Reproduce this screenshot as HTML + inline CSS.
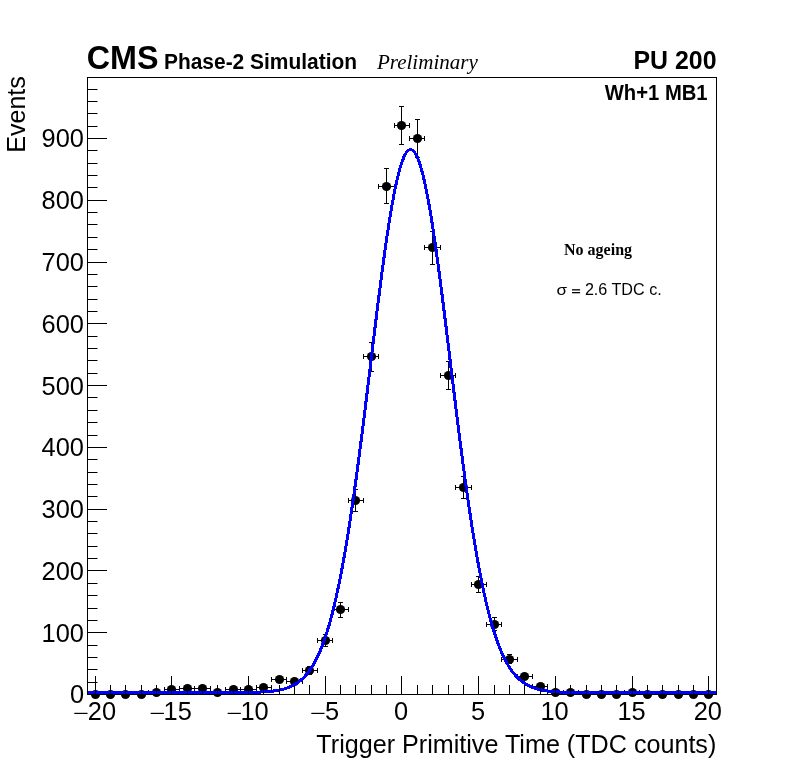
<!DOCTYPE html><html><head><meta charset="utf-8"><style>html,body{margin:0;padding:0;background:#fff;width:796px;height:772px;overflow:hidden}svg{display:block;will-change:transform}</style></head><body><svg width="796" height="772" viewBox="0 0 796 772"><rect x="0" y="0" width="796" height="772" fill="#fff"/><defs><clipPath id="cl"><rect x="87" y="77" width="630" height="617"/></clipPath></defs><path clip-path="url(#cl)" d="M87.5 694.5H102.5M87.5 692.0V697.0M102.5 692.0V697.0M102.5 694.5H118.5M102.5 692.0V697.0M118.5 692.0V697.0M118.5 694.5H133.5M118.5 692.0V697.0M133.5 692.0V697.0M133.5 694.5H148.5M133.5 692.0V697.0M148.5 692.0V697.0M148.5 692.5H164.5M148.5 690.0V695.0M164.5 690.0V695.0M156.5 691.5V693.5M154.0 691.5H159.0M154.0 693.5H159.0M164.5 689.5H179.5M164.5 687.0V692.0M179.5 687.0V692.0M171.5 687.5V691.5M169.0 687.5H174.0M169.0 691.5H174.0M179.5 688.5H194.5M179.5 686.0V691.0M194.5 686.0V691.0M187.5 686.5V690.5M185.0 686.5H190.0M185.0 690.5H190.0M194.5 688.5H210.5M194.5 686.0V691.0M210.5 686.0V691.0M202.5 686.5V690.5M200.0 686.5H205.0M200.0 690.5H205.0M210.5 692.5H225.5M210.5 690.0V695.0M225.5 690.0V695.0M217.5 691.5V693.5M215.0 691.5H220.0M215.0 693.5H220.0M225.5 689.5H240.5M225.5 687.0V692.0M240.5 687.0V692.0M233.5 687.5V691.5M231.0 687.5H236.0M231.0 691.5H236.0M240.5 689.5H256.5M240.5 687.0V692.0M256.5 687.0V692.0M248.5 687.5V691.5M246.0 687.5H251.0M246.0 691.5H251.0M256.5 687.5H271.5M256.5 685.0V690.0M271.5 685.0V690.0M263.5 684.5V689.5M261.0 684.5H266.0M261.0 689.5H266.0M271.5 679.5H286.5M271.5 677.0V682.0M286.5 677.0V682.0M279.5 676.5V682.5M277.0 676.5H282.0M277.0 682.5H282.0M286.5 681.5H302.5M286.5 679.0V684.0M302.5 679.0V684.0M294.5 678.5V684.5M292.0 678.5H297.0M292.0 684.5H297.0M302.5 670.5H317.5M302.5 668.0V673.0M317.5 668.0V673.0M309.5 666.5V674.5M307.0 666.5H312.0M307.0 674.5H312.0M317.5 640.5H332.5M317.5 638.0V643.0M332.5 638.0V643.0M325.5 634.5V646.5M323.0 634.5H328.0M323.0 646.5H328.0M332.5 609.5H348.5M332.5 607.0V612.0M348.5 607.0V612.0M340.5 602.5V617.5M338.0 602.5H343.0M338.0 617.5H343.0M348.5 500.5H363.5M348.5 498.0V503.0M363.5 498.0V503.0M355.5 489.5V511.5M353.0 489.5H358.0M353.0 511.5H358.0M363.5 356.5H378.5M363.5 354.0V359.0M378.5 354.0V359.0M371.5 342.5V371.5M369.0 342.5H374.0M369.0 371.5H374.0M378.5 186.5H394.5M378.5 184.0V189.0M394.5 184.0V189.0M386.5 168.5V203.5M384.0 168.5H389.0M384.0 203.5H389.0M394.5 125.5H409.5M394.5 123.0V128.0M409.5 123.0V128.0M401.5 106.5V144.5M399.0 106.5H404.0M399.0 144.5H404.0M409.5 138.5H424.5M409.5 136.0V141.0M424.5 136.0V141.0M417.5 119.5V157.5M415.0 119.5H420.0M415.0 157.5H420.0M424.5 247.5H440.5M424.5 245.0V250.0M440.5 245.0V250.0M432.5 231.5V264.5M430.0 231.5H435.0M430.0 264.5H435.0M440.5 375.5H455.5M440.5 373.0V378.0M455.5 373.0V378.0M448.5 361.5V389.5M446.0 361.5H451.0M446.0 389.5H451.0M455.5 487.5H471.5M455.5 485.0V490.0M471.5 485.0V490.0M463.5 476.5V498.5M461.0 476.5H466.0M461.0 498.5H466.0M471.5 584.5H486.5M471.5 582.0V587.0M486.5 582.0V587.0M478.5 576.5V592.5M476.0 576.5H481.0M476.0 592.5H481.0M486.5 624.5H501.5M486.5 622.0V627.0M501.5 622.0V627.0M494.5 617.5V630.5M492.0 617.5H497.0M492.0 630.5H497.0M501.5 659.5H517.5M501.5 657.0V662.0M517.5 657.0V662.0M509.5 654.5V663.5M507.0 654.5H512.0M507.0 663.5H512.0M517.5 676.5H532.5M517.5 674.0V679.0M532.5 674.0V679.0M524.5 673.5V679.5M522.0 673.5H527.0M522.0 679.5H527.0M532.5 686.5H547.5M532.5 684.0V689.0M547.5 684.0V689.0M540.5 684.5V688.5M538.0 684.5H543.0M538.0 688.5H543.0M547.5 692.5H563.5M547.5 690.0V695.0M563.5 690.0V695.0M555.5 690.5V693.5M553.0 690.5H558.0M553.0 693.5H558.0M563.5 692.5H578.5M563.5 690.0V695.0M578.5 690.0V695.0M570.5 691.5V693.5M568.0 691.5H573.0M568.0 693.5H573.0M578.5 694.5H593.5M578.5 692.0V697.0M593.5 692.0V697.0M593.5 694.5H609.5M593.5 692.0V697.0M609.5 692.0V697.0M609.5 694.5H624.5M609.5 692.0V697.0M624.5 692.0V697.0M624.5 692.5H639.5M624.5 690.0V695.0M639.5 690.0V695.0M632.5 691.5V693.5M630.0 691.5H635.0M630.0 693.5H635.0M639.5 694.5H655.5M639.5 692.0V697.0M655.5 692.0V697.0M655.5 694.5H670.5M655.5 692.0V697.0M670.5 692.0V697.0M670.5 694.5H685.5M670.5 692.0V697.0M685.5 692.0V697.0M685.5 694.5H701.5M685.5 692.0V697.0M701.5 692.0V697.0M701.5 694.5H716.5M701.5 692.0V697.0M716.5 692.0V697.0" stroke="#000" stroke-width="1" fill="none"/><g fill="#000"><circle cx="95.5" cy="694.5" r="4.6"/><circle cx="110.5" cy="694.5" r="4.6"/><circle cx="125.5" cy="694.5" r="4.6"/><circle cx="141.5" cy="694.5" r="4.6"/><circle cx="156.5" cy="692.5" r="4.6"/><circle cx="171.5" cy="689.5" r="4.6"/><circle cx="187.5" cy="688.5" r="4.6"/><circle cx="202.5" cy="688.5" r="4.6"/><circle cx="217.5" cy="692.5" r="4.6"/><circle cx="233.5" cy="689.5" r="4.6"/><circle cx="248.5" cy="689.5" r="4.6"/><circle cx="263.5" cy="687.5" r="4.6"/><circle cx="279.5" cy="679.5" r="4.6"/><circle cx="294.5" cy="681.5" r="4.6"/><circle cx="309.5" cy="670.5" r="4.6"/><circle cx="325.5" cy="640.5" r="4.6"/><circle cx="340.5" cy="609.5" r="4.6"/><circle cx="355.5" cy="500.5" r="4.6"/><circle cx="371.5" cy="356.5" r="4.6"/><circle cx="386.5" cy="186.5" r="4.6"/><circle cx="401.5" cy="125.5" r="4.6"/><circle cx="417.5" cy="138.5" r="4.6"/><circle cx="432.5" cy="247.5" r="4.6"/><circle cx="448.5" cy="375.5" r="4.6"/><circle cx="463.5" cy="487.5" r="4.6"/><circle cx="478.5" cy="584.5" r="4.6"/><circle cx="494.5" cy="624.5" r="4.6"/><circle cx="509.5" cy="659.5" r="4.6"/><circle cx="524.5" cy="676.5" r="4.6"/><circle cx="540.5" cy="686.5" r="4.6"/><circle cx="555.5" cy="692.5" r="4.6"/><circle cx="570.5" cy="692.5" r="4.6"/><circle cx="586.5" cy="694.5" r="4.6"/><circle cx="601.5" cy="694.5" r="4.6"/><circle cx="616.5" cy="694.5" r="4.6"/><circle cx="632.5" cy="692.5" r="4.6"/><circle cx="647.5" cy="694.5" r="4.6"/><circle cx="662.5" cy="694.5" r="4.6"/><circle cx="678.5" cy="694.5" r="4.6"/><circle cx="693.5" cy="694.5" r="4.6"/><circle cx="708.5" cy="694.5" r="4.6"/></g><polyline points="87.51,692.50 89.61,692.50 91.70,692.50 93.80,692.50 95.90,692.50 97.99,692.50 100.09,692.50 102.19,692.50 104.28,692.50 106.38,692.50 108.47,692.50 110.57,692.50 112.67,692.50 114.76,692.50 116.86,692.50 118.96,692.50 121.05,692.50 123.15,692.50 125.25,692.50 127.34,692.50 129.44,692.50 131.54,692.50 133.63,692.50 135.73,692.50 137.83,692.50 139.92,692.50 142.02,692.50 144.11,692.50 146.21,692.50 148.31,692.50 150.40,692.50 152.50,692.50 154.60,692.50 156.69,692.50 158.79,692.50 160.89,692.50 162.98,692.50 165.08,692.50 167.18,692.50 169.27,692.50 171.37,692.50 173.47,692.50 175.56,692.50 177.66,692.50 179.75,692.50 181.85,692.50 183.95,692.50 186.04,692.50 188.14,692.50 190.24,692.50 192.33,692.50 194.43,692.50 196.53,692.50 198.62,692.50 200.72,692.50 202.82,692.50 204.91,692.50 207.01,692.50 209.11,692.50 211.20,692.50 213.30,692.50 215.39,692.50 217.49,692.50 219.59,692.49 221.68,692.49 223.78,692.49 225.88,692.49 227.97,692.48 230.07,692.48 232.17,692.48 234.26,692.47 236.36,692.46 238.46,692.45 240.55,692.44 242.65,692.42 244.75,692.40 246.84,692.38 248.94,692.35 251.03,692.32 253.13,692.28 255.23,692.22 257.32,692.16 259.42,692.09 261.52,692.00 263.61,691.89 265.71,691.76 267.81,691.60 269.90,691.42 272.00,691.20 274.10,690.94 276.19,690.64 278.29,690.28 280.38,689.86 282.48,689.37 284.58,688.80 286.67,688.14 288.77,687.37 290.87,686.49 292.96,685.47 295.06,684.31 297.16,682.97 299.25,681.45 301.35,679.72 303.45,677.77 305.54,675.56 307.64,673.07 309.74,670.27 311.83,667.15 313.93,663.67 316.02,659.79 318.12,655.51 320.22,650.77 322.31,645.56 324.41,639.84 326.51,633.59 328.60,626.78 330.70,619.38 332.80,611.38 334.89,602.75 336.99,593.47 339.09,583.54 341.18,572.94 343.28,561.67 345.38,549.73 347.47,537.14 349.57,523.90 351.66,510.04 353.76,495.58 355.86,480.56 357.95,465.03 360.05,449.04 362.15,432.63 364.24,415.89 366.34,398.88 368.44,381.69 370.53,364.39 372.63,347.09 374.73,329.88 376.82,312.87 378.92,296.15 381.02,279.84 383.11,264.04 385.21,248.86 387.30,234.41 389.40,220.80 391.50,208.13 393.59,196.48 395.69,185.96 397.79,176.64 399.88,168.60 401.98,161.90 404.08,156.60 406.17,152.74 408.27,150.36 410.37,149.46 412.46,150.06 414.56,152.16 416.66,155.74 418.75,160.76 420.85,167.19 422.94,174.97 425.04,184.05 427.14,194.34 429.23,205.77 431.33,218.25 433.43,231.69 435.52,245.98 437.62,261.02 439.72,276.71 441.81,292.93 443.91,309.58 446.01,326.54 448.10,343.72 450.20,361.01 452.30,378.32 454.39,395.54 456.49,412.59 458.58,429.39 460.68,445.86 462.78,461.95 464.87,477.57 466.97,492.69 469.07,507.26 471.16,521.24 473.26,534.61 475.36,547.33 477.45,559.39 479.55,570.79 481.65,581.52 483.74,591.58 485.84,600.99 487.94,609.74 490.03,617.87 492.13,625.38 494.22,632.31 496.32,638.66 498.42,644.48 500.51,649.79 502.61,654.62 504.71,658.99 506.80,662.94 508.90,666.50 511.00,669.69 513.09,672.55 515.19,675.09 517.29,677.36 519.38,679.36 521.48,681.13 523.58,682.69 525.67,684.06 527.77,685.26 529.86,686.30 531.96,687.21 534.06,688.00 536.15,688.68 538.25,689.27 540.35,689.77 542.44,690.20 544.54,690.57 546.64,690.89 548.73,691.15 550.83,691.38 552.93,691.57 555.02,691.73 557.12,691.86 559.22,691.98 561.31,692.07 563.41,692.15 565.50,692.21 567.60,692.27 569.70,692.31 571.79,692.35 573.89,692.38 575.99,692.40 578.08,692.42 580.18,692.44 582.28,692.45 584.37,692.46 586.47,692.47 588.57,692.47 590.66,692.48 592.76,692.48 594.85,692.49 596.95,692.49 599.05,692.49 601.14,692.49 603.24,692.50 605.34,692.50 607.43,692.50 609.53,692.50 611.63,692.50 613.72,692.50 615.82,692.50 617.92,692.50 620.01,692.50 622.11,692.50 624.21,692.50 626.30,692.50 628.40,692.50 630.49,692.50 632.59,692.50 634.69,692.50 636.78,692.50 638.88,692.50 640.98,692.50 643.07,692.50 645.17,692.50 647.27,692.50 649.36,692.50 651.46,692.50 653.56,692.50 655.65,692.50 657.75,692.50 659.85,692.50 661.94,692.50 664.04,692.50 666.13,692.50 668.23,692.50 670.33,692.50 672.42,692.50 674.52,692.50 676.62,692.50 678.71,692.50 680.81,692.50 682.91,692.50 685.00,692.50 687.10,692.50 689.20,692.50 691.29,692.50 693.39,692.50 695.49,692.50 697.58,692.50 699.68,692.50 701.77,692.50 703.87,692.50 705.97,692.50 708.06,692.50 710.16,692.50 712.26,692.50 714.35,692.50 716.45,692.50" fill="none" stroke="#0000ff" stroke-width="3" stroke-linejoin="round" shape-rendering="crispEdges"/><path d="M87.5 694.5H107.0M87.5 682.5H97.5M87.5 669.5H97.5M87.5 657.5H97.5M87.5 645.5H97.5M87.5 632.5H107.0M87.5 620.5H97.5M87.5 608.5H97.5M87.5 595.5H97.5M87.5 583.5H97.5M87.5 570.5H107.0M87.5 558.5H97.5M87.5 546.5H97.5M87.5 533.5H97.5M87.5 521.5H97.5M87.5 509.5H107.0M87.5 496.5H97.5M87.5 484.5H97.5M87.5 472.5H97.5M87.5 459.5H97.5M87.5 447.5H107.0M87.5 435.5H97.5M87.5 422.5H97.5M87.5 410.5H97.5M87.5 397.5H97.5M87.5 385.5H107.0M87.5 373.5H97.5M87.5 360.5H97.5M87.5 348.5H97.5M87.5 336.5H97.5M87.5 323.5H107.0M87.5 311.5H97.5M87.5 299.5H97.5M87.5 286.5H97.5M87.5 274.5H97.5M87.5 262.5H107.0M87.5 249.5H97.5M87.5 237.5H97.5M87.5 224.5H97.5M87.5 212.5H97.5M87.5 200.5H107.0M87.5 187.5H97.5M87.5 175.5H97.5M87.5 163.5H97.5M87.5 150.5H97.5M87.5 138.5H107.0M87.5 126.5H97.5M87.5 113.5H97.5M87.5 101.5H97.5M87.5 89.5H97.5M95.5 694.5V676.0M110.5 694.5V685.0M125.5 694.5V685.0M141.5 694.5V685.0M156.5 694.5V685.0M171.5 694.5V676.0M187.5 694.5V685.0M202.5 694.5V685.0M217.5 694.5V685.0M233.5 694.5V685.0M248.5 694.5V676.0M263.5 694.5V685.0M279.5 694.5V685.0M294.5 694.5V685.0M309.5 694.5V685.0M325.5 694.5V676.0M340.5 694.5V685.0M355.5 694.5V685.0M371.5 694.5V685.0M386.5 694.5V685.0M401.5 694.5V676.0M417.5 694.5V685.0M432.5 694.5V685.0M448.5 694.5V685.0M463.5 694.5V685.0M478.5 694.5V676.0M494.5 694.5V685.0M509.5 694.5V685.0M524.5 694.5V685.0M540.5 694.5V685.0M555.5 694.5V676.0M570.5 694.5V685.0M586.5 694.5V685.0M601.5 694.5V685.0M616.5 694.5V685.0M632.5 694.5V676.0M647.5 694.5V685.0M662.5 694.5V685.0M678.5 694.5V685.0M693.5 694.5V685.0M708.5 694.5V676.0" stroke="#000" stroke-width="1" fill="none"/><rect x="87.5" y="77.5" width="629.0" height="617.0" fill="none" stroke="#000" stroke-width="1"/><text transform="translate(86.708,68.900) scale(0.9650,1)" style="font-family:'Liberation Sans',sans-serif;font-weight:bold;font-size:33.478px">CMS</text><text transform="translate(163.938,69.000) scale(0.9513,1)" style="font-family:'Liberation Sans',sans-serif;font-weight:bold;font-size:22.029px">Phase-2 Simulation</text><text transform="translate(376.905,69.000) scale(0.9997,1)" style="font-family:'Liberation Serif',serif;font-style:italic;font-size:21.069px">Preliminary</text><text transform="translate(633.482,68.700) scale(0.9704,1)" style="font-family:'Liberation Sans',sans-serif;font-weight:bold;font-size:25.652px">PU 200</text><text transform="translate(604.700,99.900) scale(0.9318,1)" style="font-family:'Liberation Sans',sans-serif;font-weight:bold;font-size:21.739px">Wh+1 MB1</text><text transform="translate(563.979,254.800) scale(0.9480,1)" style="font-family:'Liberation Serif',serif;font-weight:bold;font-size:16.923px">No ageing</text><text transform="translate(556.614,295.000) scale(1.1429,1)" style="font-family:'Liberation Sans',sans-serif;font-size:15.000px">σ</text><text transform="translate(584.893,295.000) scale(0.9363,1)" style="font-family:'Liberation Sans',sans-serif;font-size:17.246px">2.6 TDC c.</text><rect x="572" y="289.2" width="8.1" height="1.3" fill="#000"/><rect x="572" y="292" width="8.1" height="1.3" fill="#000"/><text transform="translate(316.371,752.900) scale(0.9432,1)" style="font-family:'Liberation Sans',sans-serif;font-size:26.667px">Trigger Primitive Time (TDC counts)</text><text transform="translate(24.9,152.808) rotate(-90) scale(0.9569,1)" style="font-family:'Liberation Sans',sans-serif;font-size:26.232px">Events</text><text transform="translate(69.912,703.40) scale(0.985,1)" style="font-family:'Liberation Sans',sans-serif;font-size:25.8px">0</text><text transform="translate(41.577,641.62) scale(0.985,1)" style="font-family:'Liberation Sans',sans-serif;font-size:25.8px">100</text><text transform="translate(41.577,579.84) scale(0.985,1)" style="font-family:'Liberation Sans',sans-serif;font-size:25.8px">200</text><text transform="translate(41.577,518.06) scale(0.985,1)" style="font-family:'Liberation Sans',sans-serif;font-size:25.8px">300</text><text transform="translate(41.577,456.28) scale(0.985,1)" style="font-family:'Liberation Sans',sans-serif;font-size:25.8px">400</text><text transform="translate(41.577,394.50) scale(0.985,1)" style="font-family:'Liberation Sans',sans-serif;font-size:25.8px">500</text><text transform="translate(41.577,332.72) scale(0.985,1)" style="font-family:'Liberation Sans',sans-serif;font-size:25.8px">600</text><text transform="translate(41.577,270.94) scale(0.985,1)" style="font-family:'Liberation Sans',sans-serif;font-size:25.8px">700</text><text transform="translate(41.577,209.16) scale(0.985,1)" style="font-family:'Liberation Sans',sans-serif;font-size:25.8px">800</text><text transform="translate(41.577,147.38) scale(0.985,1)" style="font-family:'Liberation Sans',sans-serif;font-size:25.8px">900</text><rect x="74.326" y="712.8" width="13.2" height="1.2" fill="#000"/><text transform="translate(87.755,720.1) scale(0.985,1)" style="font-family:'Liberation Sans',sans-serif;font-size:25.8px">20</text><rect x="150.707" y="712.8" width="13.2" height="1.2" fill="#000"/><text transform="translate(163.501,720.1) scale(0.985,1)" style="font-family:'Liberation Sans',sans-serif;font-size:25.8px">15</text><rect x="227.643" y="712.8" width="13.2" height="1.2" fill="#000"/><text transform="translate(240.438,720.1) scale(0.985,1)" style="font-family:'Liberation Sans',sans-serif;font-size:25.8px">10</text><rect x="311.314" y="712.8" width="13.2" height="1.2" fill="#000"/><text transform="translate(324.998,720.1) scale(0.985,1)" style="font-family:'Liberation Sans',sans-serif;font-size:25.8px">5</text><text transform="translate(393.948,720.1) scale(0.985,1)" style="font-family:'Liberation Sans',sans-serif;font-size:25.8px">0</text><text transform="translate(470.948,720.1) scale(0.985,1)" style="font-family:'Liberation Sans',sans-serif;font-size:25.8px">5</text><text transform="translate(540.388,720.1) scale(0.985,1)" style="font-family:'Liberation Sans',sans-serif;font-size:25.8px">10</text><text transform="translate(617.451,720.1) scale(0.985,1)" style="font-family:'Liberation Sans',sans-serif;font-size:25.8px">15</text><text transform="translate(693.705,720.1) scale(0.985,1)" style="font-family:'Liberation Sans',sans-serif;font-size:25.8px">20</text></svg></body></html>
